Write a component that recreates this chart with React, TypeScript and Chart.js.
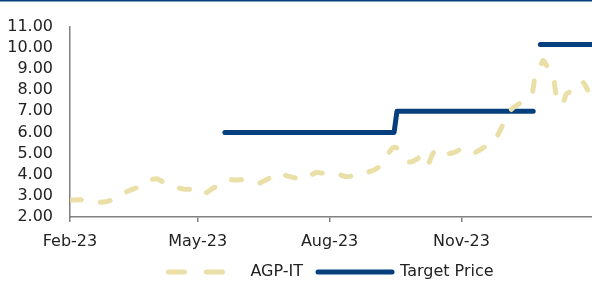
import React, { useEffect, useRef } from "react";
import { Chart, registerables } from "chart.js";

Chart.register(...registerables);

// Days counted from 1 Feb 2023
const priceDays = [
  1, 7, 12, 17, 22, 28, 33, 38, 42, 47,
  51, 56, 61, 65, 70, 75, 79, 84, 91, 95,
  100, 105, 109, 115, 122, 127, 132, 138, 144, 148,
  151, 157, 162, 167, 172, 178, 183, 188, 193, 197,
  202, 207, 213, 216, 220, 223, 226, 230, 233, 237,
  242, 245, 249, 254, 259, 263, 268, 273, 277, 280,
  284, 289, 293, 296, 300, 304, 308, 312, 317, 322,
  324, 328, 330, 332, 337, 339, 343, 346, 348, 351,
  355, 358, 361,
];
const priceValues = [
  2.8, 2.82, 2.8, 2.74, 2.7, 2.78, 3.04, 3.15, 3.27, 3.4,
  3.6, 3.75, 3.8, 3.65, 3.46, 3.38, 3.32, 3.3, 3.04, 3.15,
  3.37, 3.5, 3.75, 3.75, 3.75, 3.65, 3.6, 3.8, 4.0, 4.1,
  3.95, 3.85, 3.75, 3.95, 4.1, 4.05, 4.03, 4.0, 3.9, 3.95,
  4.0, 4.1, 4.26, 4.4, 4.7, 5.1, 5.3, 5.16, 4.9, 4.6,
  4.74, 4.9, 4.45, 5.07, 4.83, 4.97, 5.05, 5.2, 5.0, 4.97,
  5.1, 5.3, 5.4, 5.6, 6.1, 6.7, 7.1, 7.3, 7.5, 7.8,
  8.5, 9.1, 9.4, 9.2, 8.6, 7.8, 7.3, 7.8, 7.9, 8.1,
  8.4, 8.35, 8.0,
];
const targetDays = [108, 226, 228, 323, 325, 328, 364];
const targetValues: (number | null)[] = [6.0, 6.0, 7.0, 7.0, null, 10.15, 10.15];

const tickDays = [0, 89, 181, 273];
const tickLabels = ["Feb-23", "May-23", "Aug-23", "Nov-23"];
const seriesNames = ["AGP-IT", "Target Price"];

const BEIGE = "#E9DFA7";
const NAVY = "#053F7E";
const TEXT = "#222222";
const AXIS = "#808080";
const FONT = "'DejaVu Sans', sans-serif";

export default function App() {
  const ref = useRef<HTMLCanvasElement>(null);

  useEffect(() => {
    document.body.style.margin = "0";
    const canvas = ref.current;
    if (!canvas) return;

    const topBorder = {
      id: "topBorder",
      afterDraw(chart: any) {
        const { ctx, width } = chart;
        ctx.save();
        ctx.fillStyle = NAVY;
        ctx.fillRect(0, 0, width, 1.5);
        ctx.restore();
      },
    };

    const chart = new Chart(canvas, {
      type: "line",
      data: {
        datasets: [
          {
            label: seriesNames[0],
            data: priceDays.map((d, i) => ({ x: d, y: priceValues[i] })),
            borderColor: BEIGE,
            backgroundColor: BEIGE,
            borderWidth: 5,
            borderDash: [10, 19],
            borderCapStyle: "round",
            borderJoinStyle: "round",
            pointRadius: 0,
            tension: 0.3,
            fill: false,
          },
          {
            label: seriesNames[1],
            data: targetDays.map((d, i) => ({ x: d, y: targetValues[i] })),
            borderColor: NAVY,
            backgroundColor: NAVY,
            borderWidth: 5,
            borderCapStyle: "round",
            borderJoinStyle: "round",
            pointRadius: 0,
            tension: 0,
            spanGaps: false,
            fill: false,
          },
        ],
      },
      options: {
        responsive: false,
        animation: false,
        layout: { padding: { top: 24, left: 0, right: 0, bottom: 0 } },
        font: { family: FONT, size: 16 },
        scales: {
          x: {
            type: "linear",
            min: 0,
            max: 364,
            afterBuildTicks: (s: any) => {
              s.ticks = tickDays.map((v) => ({ value: v }));
            },
            afterFit: (s: any) => {
              s.height = 32;
            },
            ticks: {
              autoSkip: false,
              maxRotation: 0,
              padding: 10,
              color: TEXT,
              font: { family: FONT, size: 16 },
              callback: (_v: any, i: number) => tickLabels[i] ?? "",
            },
            grid: {
              display: true,
              drawOnChartArea: false,
              drawTicks: true,
              tickLength: 5,
              color: AXIS,
              lineWidth: 1.5,
            },
            border: { display: true, color: AXIS, width: 1.5 },
          },
          y: {
            min: 2,
            max: 11,
            afterFit: (s: any) => {
              s.width = 70;
            },
            ticks: {
              stepSize: 1,
              autoSkip: false,
              padding: 17,
              color: TEXT,
              font: { family: FONT, size: 16 },
              callback: (v: any) => Number(v).toFixed(2),
            },
            grid: { display: false, drawTicks: false },
            border: { display: true, color: AXIS, width: 1.5 },
          },
        },
        plugins: {
          tooltip: { enabled: false },
          legend: {
            position: "bottom",
            fullSize: false,
            maxHeight: 32,
            labels: {
              usePointStyle: true,
              pointStyle: "line",
              pointStyleWidth: 74,
              boxWidth: 74,
              boxHeight: 16,
              padding: 15,
              color: TEXT,
              font: { family: FONT, size: 16 },
              generateLabels: (c: any) => {
                const items = (Chart.defaults.plugins.legend.labels as any).generateLabels(c);
                return items.map((it: any, i: number) => ({
                  ...it,
                  pointStyle: "line",
                  lineWidth: 5,
                  lineCap: "round",
                  lineDash: i === 0 ? [16, 22] : [],
                  strokeStyle: i === 0 ? BEIGE : NAVY,
                }));
              },
            },
          },
        },
      } as any,
      plugins: [topBorder],
    });

    return () => chart.destroy();
  }, []);

  return <canvas ref={ref} width={592} height={281} style={{ display: "block" }} />;
}
